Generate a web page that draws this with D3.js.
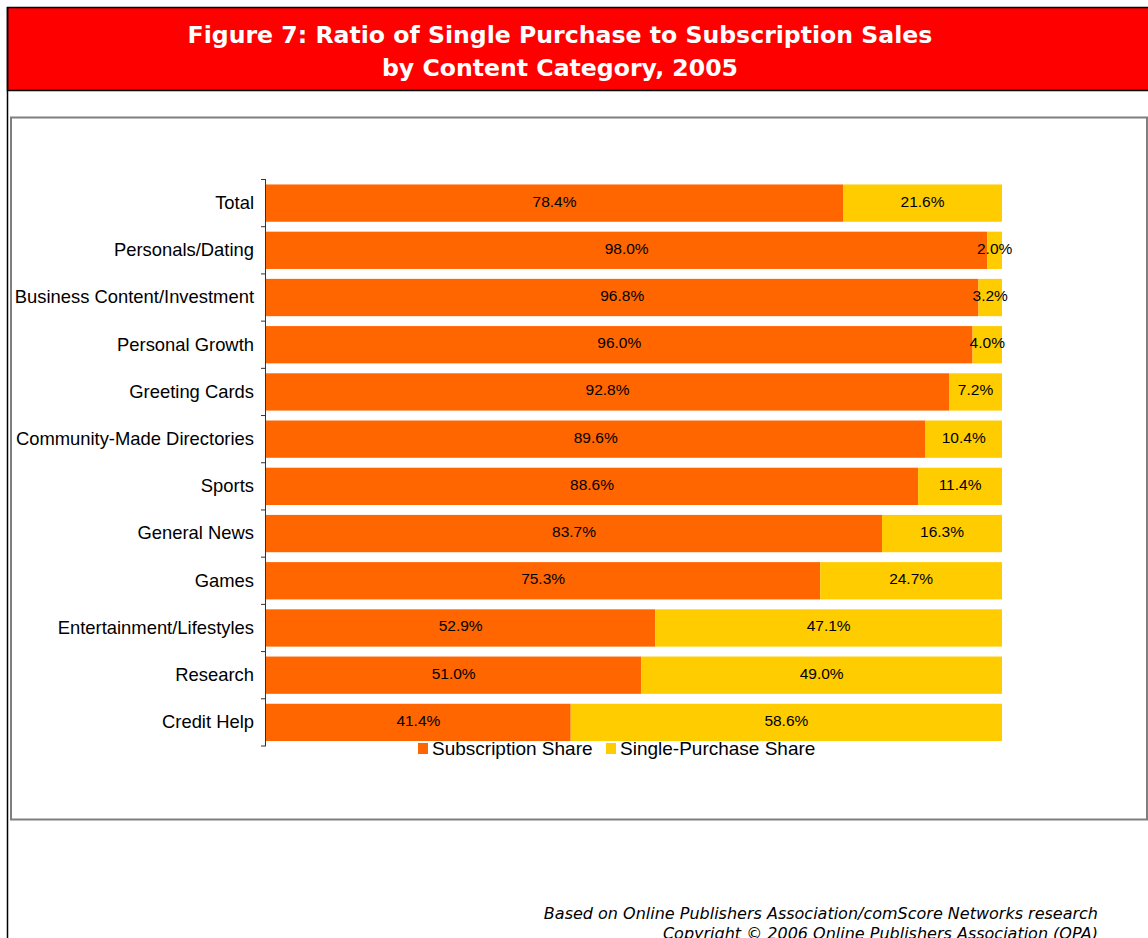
<!DOCTYPE html>
<html>
<head>
<meta charset="utf-8">
<script src="https://cdn.jsdelivr.net/npm/d3@7"></script>
<style>
  body { margin: 0; background: #fff; }
  svg { display: block; }
</style>
</head>
<body>
<div></div>
<script>
var categories = ["Total", "Personals/Dating", "Business Content/Investment", "Personal Growth",
    "Greeting Cards", "Community-Made Directories", "Sports", "General News", "Games",
    "Entertainment/Lifestyles", "Research", "Credit Help"];
var subscription = [78.4, 98.0, 96.8, 96.0, 92.8, 89.6, 88.6, 83.7, 75.3, 52.9, 51.0, 41.4];
var singlePurchase = [21.6, 2.0, 3.2, 4.0, 7.2, 10.4, 11.4, 16.3, 24.7, 47.1, 49.0, 58.6];
var seriesNames = ["Subscription Share", "Single-Purchase Share"];
var titleLines = ["Figure 7: Ratio of Single Purchase to Subscription Sales", "by Content Category, 2005"];
var footerLines = ["Based on Online Publishers Association/comScore Networks research",
    "Copyright \u00a9 2006 Online Publishers Association (OPA)"];

var width = 1148;
var height = 938;
var colors = ["#ff6600", "#ffcc00"];

var svg = d3.select('div')
    .append('svg')
    .attr('width', width)
    .attr('height', height);

// cabecera roja
svg.append("rect")
    .attr("x", 7.5).attr("y", 7.5)
    .attr("width", width).attr("height", 83)
    .attr("fill", "#ff0000")
    .attr("stroke", "#000")
    .attr("stroke-width", 1.5);

svg.append("line")
    .attr("x1", 7.5).attr("x2", 7.5)
    .attr("y1", 7).attr("y2", height)
    .attr("stroke", "#000").attr("stroke-width", 1.5);

svg.selectAll(".title")
    .data(titleLines)
    .enter()
    .append("text")
    .attr("class", "title")
    .attr("x", 560)
    .attr("y", (d, i) => 43 + i * 33)
    .attr("text-anchor", "middle")
    .attr("fill", "#fff")
    .style("font-family", "'DejaVu Sans', Verdana, sans-serif")
    .style("font-weight", "bold")
    .style("font-size", "23.6px")
    .text(d => d);

// marco del grafico
svg.append("rect")
    .attr("x", 11).attr("y", 117.5)
    .attr("width", 1136).attr("height", 702)
    .attr("fill", "#fff")
    .attr("stroke", "#7f7f7f")
    .attr("stroke-width", 2);

var plotLeft = 266;
var plotRight = 1002;
var plotTop = 179.5;
var plotBottom = 746;

var xscale = d3.scaleLinear()
    .domain([0, 100])
    .range([plotLeft, plotRight]);

var yscale = d3.scaleBand()
    .domain(categories)
    .range([plotTop, plotBottom])
    .paddingInner(0.21)
    .paddingOuter(0.105);

var rows = categories.map(function (c, i) {
    return {cat: c, values: [subscription[i], singlePurchase[i]]};
});

var stack = d3.stack().keys([0, 1]).value((d, k) => d.values[k]);
var series = stack(rows);

var g = svg.selectAll(".serie")
    .data(series)
    .enter()
    .append("g")
    .attr("class", "serie")
    .attr("fill", (d, i) => colors[i]);

g.selectAll("rect")
    .data(d => d)
    .enter()
    .append("rect")
    .attr("x", d => xscale(d[0]))
    .attr("y", d => yscale(d.data.cat))
    .attr("width", d => xscale(d[1]) - xscale(d[0]))
    .attr("height", yscale.bandwidth());

g.selectAll("text")
    .data(d => d)
    .enter()
    .append("text")
    .attr("x", d => (xscale(d[0]) + xscale(d[1])) / 2)
    .attr("y", d => yscale(d.data.cat) + yscale.bandwidth() / 2 + 3.5)
    .attr("text-anchor", "middle")
    .attr("fill", "#000")
    .style("font-family", "'Liberation Sans', Arial, sans-serif")
    .style("font-size", "15.5px")
    .text(d => (d[1] - d[0]).toFixed(1) + "%");

// eje vertical con marcas entre categorias
var yaxis = d3.axisLeft(yscale).tickSize(0).tickPadding(12);
var ax = svg.append("g")
    .attr("transform", "translate(" + plotLeft + ",0)")
    .call(yaxis);
ax.select(".domain").remove();
ax.selectAll("text")
    .attr("fill", "#000")
    .style("font-family", "'Liberation Sans', Arial, sans-serif")
    .style("font-size", "18.4px");

svg.append("line")
    .attr("x1", plotLeft - 0.5).attr("x2", plotLeft - 0.5)
    .attr("y1", plotTop).attr("y2", plotBottom)
    .attr("stroke", "#333").attr("stroke-width", 1);

var step = yscale.step();
svg.selectAll(".tick-mark")
    .data(d3.range(categories.length + 1))
    .enter()
    .append("line")
    .attr("class", "tick-mark")
    .attr("x1", plotLeft - 5).attr("x2", plotLeft)
    .attr("y1", d => plotTop + d * step)
    .attr("y2", d => plotTop + d * step)
    .attr("stroke", "#333");

// leyenda
var legendX = [418, 606];
var legend = svg.selectAll(".legend")
    .data(seriesNames)
    .enter()
    .append("g")
    .attr("class", "legend")
    .attr("transform", (d, i) => "translate(" + legendX[i] + ",743)");
legend.append("rect")
    .attr("width", 10).attr("height", 11)
    .attr("fill", (d, i) => colors[i]);
legend.append("text")
    .attr("x", 14).attr("y", 12)
    .style("font-family", "'Liberation Sans', Arial, sans-serif")
    .style("font-size", "19px")
    .text(d => d);

// pie
svg.selectAll(".footer")
    .data(footerLines)
    .enter()
    .append("text")
    .attr("class", "footer")
    .attr("x", 1098)
    .attr("y", (d, i) => 919 + i * 20)
    .attr("text-anchor", "end")
    .style("font-family", "'DejaVu Sans', Verdana, sans-serif")
    .style("font-style", "italic")
    .style("font-size", "16px")
    .text(d => d);
</script>
</body>
</html>
